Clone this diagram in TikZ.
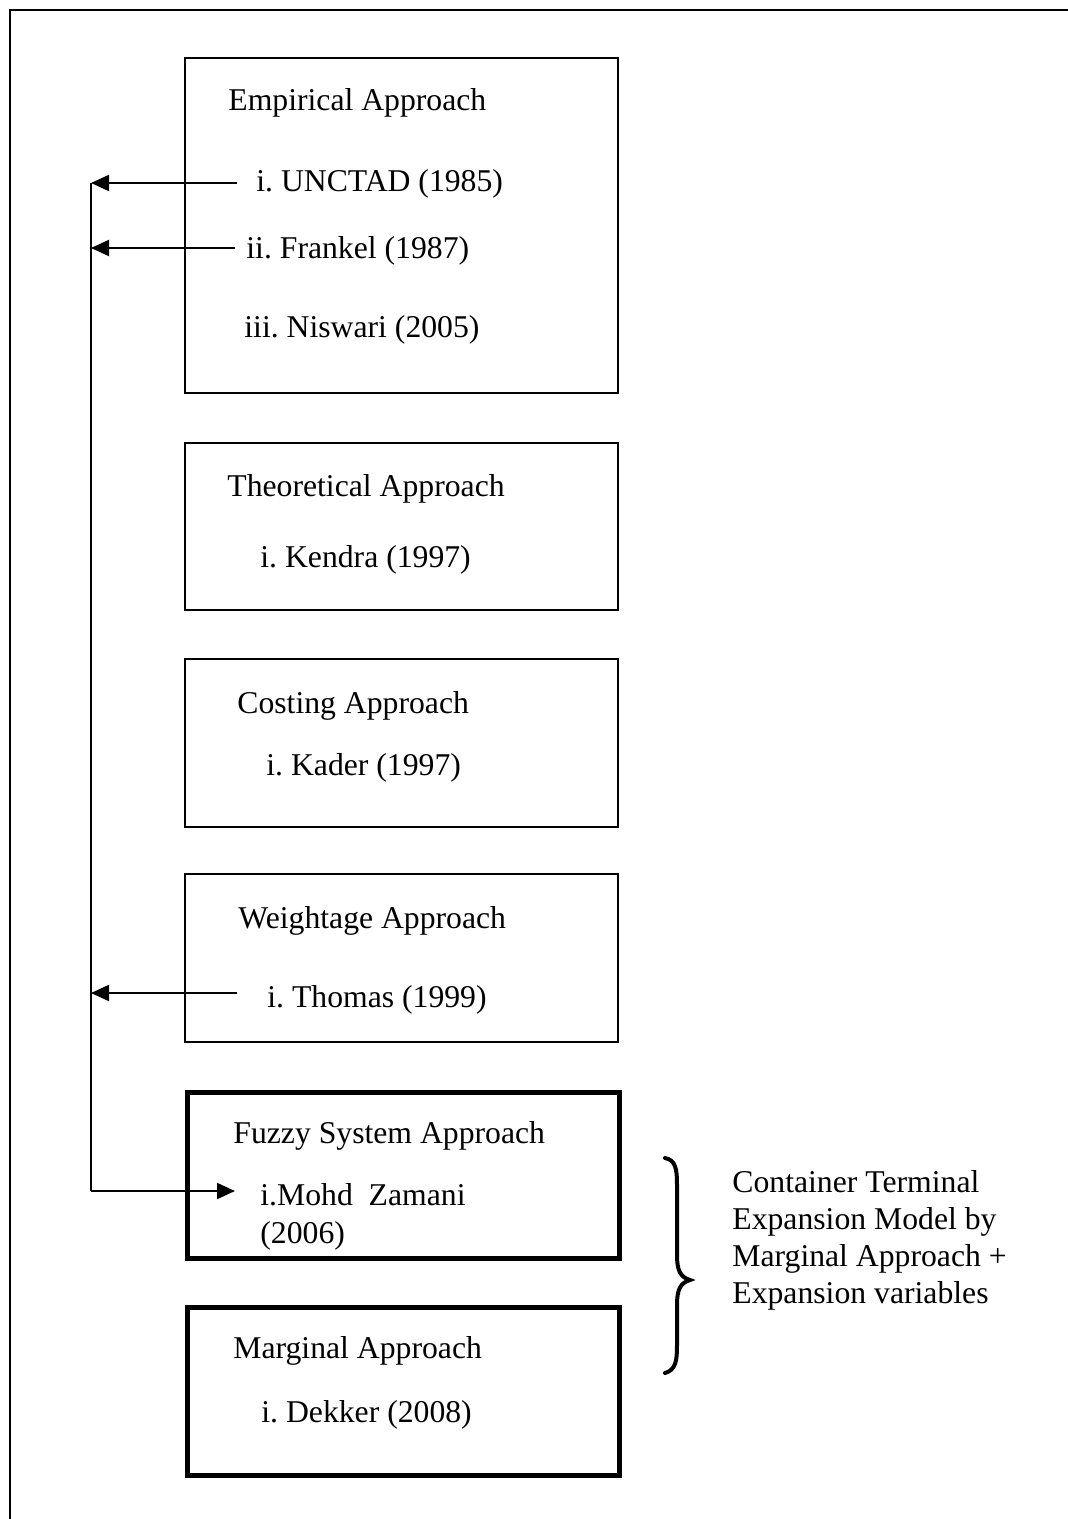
\documentclass[tikz,border=0pt]{standalone}
\usepackage{fontspec}
\setmainfont{Liberation Serif}
\usetikzlibrary{arrows.meta}
\frenchspacing
\begin{document}
\begin{tikzpicture}[x=0.5pt,y=-0.5pt,
  every node/.style={font=\fontsize{15.85pt}{18.5pt}\selectfont},
  thinbox/.style={draw, line width=0.85pt, inner sep=0pt, anchor=north west},
  thickbox/.style={draw, line width=2.5pt, inner sep=0pt, anchor=north west},
  lbl/.style={anchor=base west, inner sep=0pt},
  arr/.style={line width=1pt, -{Triangle[length=9pt, width=8pt]}},
  spine/.style={line width=0.85pt}]
\useasboundingbox (0,0) rectangle (1068,1519);
% outer frame (clipped at right and bottom)
\draw[line width=1.15pt] (10,1519) -- (10,10) -- (1068,10);
% boxes
\node[thinbox, minimum width=216.5pt, minimum height=167.5pt] (emp) at (184,57) {};
\node[thinbox, minimum width=216.5pt, minimum height=83.5pt] (theo) at (184,442) {};
\node[thinbox, minimum width=216.5pt, minimum height=84pt] (cost) at (184,658) {};
\node[thinbox, minimum width=216.5pt, minimum height=84pt] (wei) at (184,873) {};
\node[thickbox, minimum width=216pt, minimum height=83pt] (fuz) at (185,1090) {};
\node[thickbox, minimum width=216pt, minimum height=84pt] (mar) at (185,1305) {};
% texts
\node[lbl] (empt) at (228,111) {Empirical Approach};
\node[lbl] (unc) at (256,192) {i. UNCTAD (1985)};
\node[lbl] (fra) at (246,259) {ii. Frankel (1987)};
\node[lbl] (nis) at (244,337) {iii. Niswari (2005)};
\node[lbl] (theot) at (227,496) {Theoretical Approach};
\node[lbl] (ken) at (260,567) {i. Kendra (1997)};
\node[lbl] (costt) at (237,713) {Costing Approach};
\node[lbl] (kad) at (266,775) {i. Kader (1997)};
\node[lbl] (weit) at (238,928) {Weightage Approach};
\node[lbl] (tho) at (267,1007) {i. Thomas (1999)};
\node[lbl] (fuzt) at (233,1143) {Fuzzy System Approach};
\node[lbl] (moh) at (260,1205) {i.Mohd\ \ Zamani};
\node[lbl] (moy) at (260,1243) {(2006)};
\node[lbl] (mart) at (233,1358) {Marginal Approach};
\node[lbl] (dek) at (261,1422) {i. Dekker (2008)};
\node[lbl, align=left] (ctem) at (732,1303) {Container Terminal\\Expansion Model by\\Marginal Approach +\\Expansion variables};
% connector coordinates
\coordinate (a1) at (237,183);
\coordinate (a2) at (235,248);
\coordinate (a3) at (237,993);
\coordinate (s1) at (91,183);
\coordinate (s2) at (91,248);
\coordinate (s3) at (91,993);
\coordinate (s4) at (91,1191);
\coordinate (m1) at (235,1191);
\draw[arr] (a1) -- (s1);
\draw[arr] (a2) -- (s2);
\draw[arr] (a3) -- (s3);
\draw[spine] (s1) -- (s4);
\draw[arr] (s4) -- (m1);
% brace
\draw[line width=2pt, line cap=round]
  (665,1158) .. controls (676,1160) and (677,1170) .. (677,1185)
  -- (677,1255) .. controls (677,1270) and (680,1277) .. (690,1280)
  .. controls (680,1283) and (677,1290) .. (677,1305)
  -- (677,1345) .. controls (677,1360) and (676,1370) .. (665,1373);
\end{tikzpicture}
\end{document}
